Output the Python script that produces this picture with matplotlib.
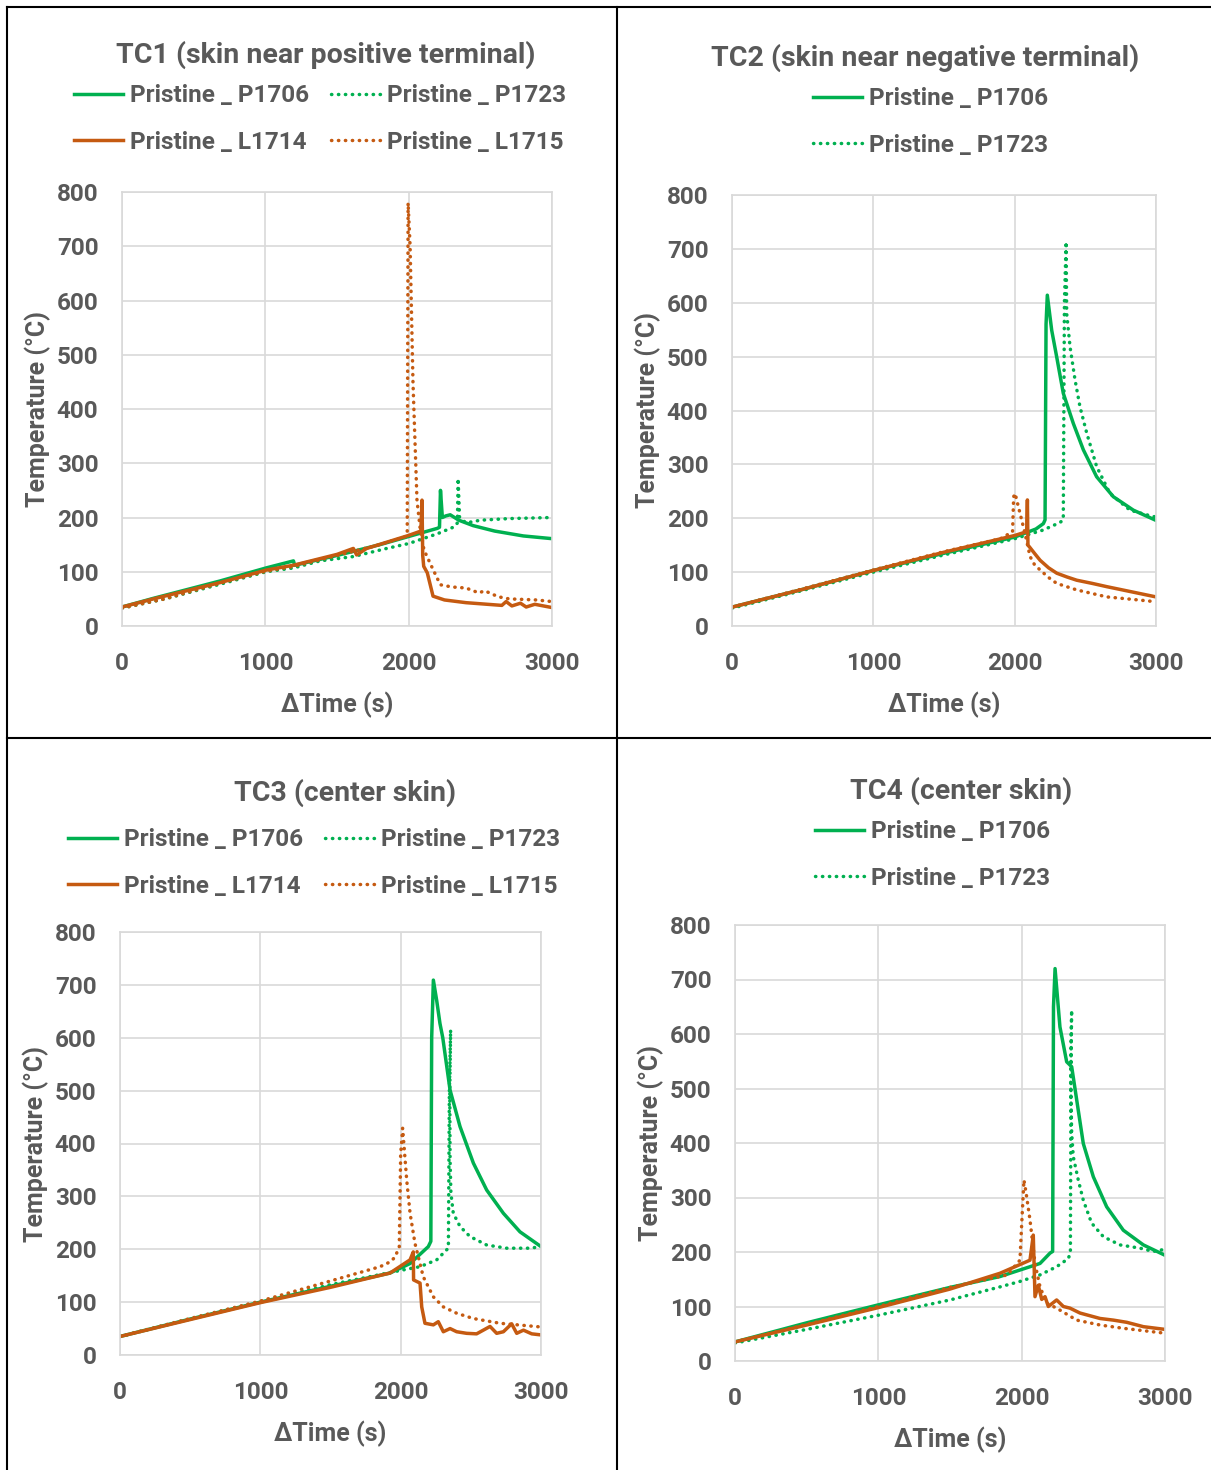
import matplotlib
matplotlib.use("Agg")
import matplotlib.pyplot as plt
from matplotlib.lines import Line2D

plt.rcParams['font.family'] = ['Roboto', 'DejaVu Sans']

GREEN = '#00B050'
ORANGE = '#C55A11'
GRAY = '#595959'
GRID = '#D9D9D9'

# ---------------- data (time s, temperature °C) ----------------
tc1_p1706_t = [0, 219, 684, 1005, 1196, 1205, 1500, 1800, 2000, 2200, 2215, 2222, 2235, 2260, 2290, 2350, 2450, 2600, 2800, 3000]
tc1_p1706_y = [35, 51, 83, 107, 120, 112, 130, 150, 165, 180, 182, 250, 200, 203, 205, 195, 185, 175, 166, 161]
tc1_p1723_t = [0, 300, 684, 1005, 1196, 1382, 1614, 1847, 2000, 2200, 2320, 2340, 2345, 2355, 2400, 2500, 2700, 3000]
tc1_p1723_y = [33, 50, 77, 100, 107, 120, 128, 143, 152, 170, 183, 190, 272, 200, 190, 195, 198, 200]
tc1_l1714_t = [0, 219, 684, 1005, 1196, 1500, 1614, 1637, 1707, 2000, 2085, 2093, 2098, 2105, 2130, 2170, 2250, 2400, 2550, 2650, 2680, 2720, 2780, 2820, 2880, 3000]
tc1_l1714_y = [35, 50, 80, 103, 112, 132, 143, 131, 143, 167, 175, 232, 130, 110, 98, 55, 48, 43, 40, 38, 45, 37, 42, 35, 40, 34]
tc1_l1715_t = [0, 300, 684, 1005, 1200, 1500, 1800, 1980, 1990, 1996, 2010, 2030, 2058, 2080, 2107, 2165, 2221, 2300, 2400, 2490, 2530, 2624, 2700, 2893, 3000]
tc1_l1715_y = [33, 50, 79, 101, 110, 130, 150, 165, 170, 780, 700, 450, 232, 180, 140, 107, 76, 72, 70, 61, 65, 54, 50, 48, 45]

tc2_p1706_t = [0, 500, 1000, 1500, 2000, 2150, 2203, 2215, 2222, 2231, 2262, 2297, 2344, 2415, 2486, 2580, 2698, 2840, 3000]
tc2_p1706_y = [35, 68, 103, 135, 165, 180, 190, 197, 560, 614, 549, 500, 432, 376, 327, 277, 240, 215, 196]
tc2_p1723_t = [0, 500, 1000, 1500, 2000, 2200, 2320, 2344, 2352, 2364, 2368, 2392, 2427, 2462, 2510, 2580, 2674, 2816, 2981, 3000]
tc2_p1723_y = [33, 66, 100, 132, 162, 178, 192, 197, 600, 713, 580, 518, 457, 407, 358, 296, 246, 215, 203, 203]
tc2_l1714_t = [0, 500, 1000, 1500, 2000, 2085, 2090, 2094, 2104, 2140, 2180, 2240, 2298, 2370, 2439, 2550, 2652, 2817, 3000]
tc2_l1714_y = [35, 68, 103, 137, 168, 175, 234, 150, 147, 135, 122, 108, 98, 91, 85, 79, 73, 64, 54]
tc2_l1715_t = [0, 500, 1000, 1500, 1900, 1985, 1993, 2003, 2038, 2073, 2109, 2140, 2180, 2240, 2298, 2439, 2652, 2850, 3000]
tc2_l1715_y = [35, 69, 104, 138, 162, 175, 240, 246, 209, 172, 129, 114, 104, 90, 79, 67, 54, 49, 45]

tc3_p1706_t = [0, 500, 1000, 1500, 1924, 2067, 2197, 2215, 2221, 2233, 2257, 2280, 2300, 2352, 2423, 2518, 2613, 2732, 2850, 3000]
tc3_p1706_y = [35, 68, 100, 130, 155, 173, 205, 215, 600, 709, 670, 627, 600, 501, 432, 363, 312, 268, 233, 205]
tc3_p1723_t = [0, 500, 1000, 1500, 2000, 2138, 2257, 2328, 2340, 2347, 2356, 2350, 2352, 2358, 2375, 2423, 2494, 2613, 2756, 2922, 3000]
tc3_p1723_y = [35, 68, 101, 133, 160, 167, 180, 199, 202, 498, 615, 500, 369, 306, 268, 243, 224, 208, 202, 202, 205]
tc3_l1714_t = [0, 500, 1000, 1500, 1924, 2067, 2090, 2092, 2138, 2150, 2173, 2233, 2268, 2304, 2352, 2399, 2470, 2541, 2637, 2684, 2732, 2791, 2827, 2875, 2934, 3000]
tc3_l1714_y = [35, 67, 99, 128, 155, 180, 195, 142, 136, 91, 60, 57, 63, 44, 50, 44, 41, 40, 54, 41, 44, 59, 41, 47, 40, 38]
tc3_l1715_t = [0, 500, 1000, 1500, 1853, 1924, 1960, 1990, 2000, 2014, 2043, 2067, 2102, 2161, 2233, 2304, 2399, 2518, 2708, 3000]
tc3_l1715_y = [35, 69, 102, 140, 167, 176, 185, 205, 380, 429, 331, 268, 211, 148, 110, 91, 79, 69, 60, 53]

tc4_p1706_t = [0, 500, 1000, 1500, 1849, 2128, 2198, 2216, 2222, 2233, 2267, 2314, 2349, 2384, 2430, 2500, 2593, 2709, 2849, 3000]
tc4_p1706_y = [35, 70, 103, 135, 155, 179, 198, 201, 650, 720, 613, 549, 540, 479, 399, 338, 283, 240, 213, 194]
tc4_p1723_t = [0, 500, 1000, 1500, 1849, 1988, 2128, 2244, 2326, 2340, 2345, 2349, 2342, 2349, 2360, 2395, 2430, 2488, 2570, 2686, 2826, 2919, 3000]
tc4_p1723_y = [33, 58, 84, 112, 136, 146, 158, 173, 188, 200, 600, 644, 510, 418, 375, 332, 295, 253, 228, 213, 207, 201, 205]
tc4_l1714_t = [0, 500, 1000, 1500, 1849, 2058, 2081, 2093, 2116, 2140, 2163, 2186, 2244, 2291, 2337, 2407, 2547, 2640, 2733, 2849, 3000]
tc4_l1714_y = [35, 66, 98, 132, 161, 185, 231, 118, 139, 113, 118, 100, 112, 100, 97, 88, 78, 75, 71, 63, 58]
tc4_l1715_t = [0, 500, 1000, 1500, 1900, 1988, 2000, 2016, 2030, 2058, 2093, 2128, 2174, 2244, 2384, 2547, 2709, 3000]
tc4_l1715_y = [35, 67, 100, 135, 158, 185, 250, 332, 310, 259, 179, 136, 106, 97, 75, 66, 60, 51]

titles = ['TC1 (skin near positive terminal)', 'TC2 (skin near negative terminal)',
          'TC3 (center skin)', 'TC4 (center skin)']
labels = ['Pristine _ P1706', 'Pristine _ P1723', 'Pristine _ L1714', 'Pristine _ L1715']
x_ticks = [0, 1000, 2000, 3000]
y_ticks = [0, 100, 200, 300, 400, 500, 600, 700, 800]

panels = [
    [(tc1_p1706_t, tc1_p1706_y), (tc1_p1723_t, tc1_p1723_y), (tc1_l1714_t, tc1_l1714_y), (tc1_l1715_t, tc1_l1715_y)],
    [(tc2_p1706_t, tc2_p1706_y), (tc2_p1723_t, tc2_p1723_y), (tc2_l1714_t, tc2_l1714_y), (tc2_l1715_t, tc2_l1715_y)],
    [(tc3_p1706_t, tc3_p1706_y), (tc3_p1723_t, tc3_p1723_y), (tc3_l1714_t, tc3_l1714_y), (tc3_l1715_t, tc3_l1715_y)],
    [(tc4_p1706_t, tc4_p1706_y), (tc4_p1723_t, tc4_p1723_y), (tc4_l1714_t, tc4_l1714_y), (tc4_l1715_t, tc4_l1715_y)],
]

W, H = 1211, 1470
fig = plt.figure(figsize=(W / 100, H / 100), dpi=100)

def fx(px):
    return px / W

def fy(py):
    return 1 - py / H

# pixel boxes: left, top, right, bottom
boxes = [(122, 192, 552, 626), (732, 195, 1156, 626), (120, 932, 541, 1355), (735, 925, 1165, 1361)]
title_pos = [(326, 55), (925, 58), (345, 793), (961, 791)]
legend_pos = [(320, 119), (931, 122), (314, 863), (933, 855)]
legend_ncol = [2, 1, 2, 1]
legend_n = [4, 2, 4, 2]

colors = [GREEN, GREEN, ORANGE, ORANGE]
dotted = (0, (0.1, 1.9))
styles = ['-', dotted, '-', dotted]
LW = 2.5

for i in range(4):
    l, t, r, b = boxes[i]
    ax = fig.add_axes([fx(l), fy(b), fx(r) - fx(l), fy(t) - fy(b)])
    for (xs, ys), c, ls in zip(panels[i], colors, styles):
        ax.plot(xs, ys, color=c, linestyle=ls, linewidth=LW,
                dash_capstyle='round', solid_capstyle='round', solid_joinstyle='round')
    ax.set_xlim(0, 3000)
    ax.set_ylim(0, 800)
    ax.set_xticks(x_ticks)
    ax.set_yticks(y_ticks)
    ax.grid(True, color=GRID, linewidth=1.2)
    ax.set_axisbelow(True)
    for s in ax.spines.values():
        s.set_color(GRID)
        s.set_linewidth(1.2)
    ax.tick_params(length=0, labelsize=17.5, labelcolor=GRAY)
    ax.tick_params(axis='x', pad=19)
    ax.tick_params(axis='y', pad=17)
    for lab in ax.get_xticklabels() + ax.get_yticklabels():
        lab.set_fontweight('bold')
    ax.set_xlabel('ΔTime (s)', fontsize=18, fontweight='bold', color=GRAY, labelpad=12)
    ax.set_ylabel('Temperature (°C)', fontsize=18, fontweight='bold', color=GRAY, labelpad=4)

    tx, ty = title_pos[i]
    fig.text(fx(tx), fy(ty), titles[i], fontsize=20.5, fontweight='bold', color=GRAY,
             ha='center', va='center')

    n = legend_n[i]
    handles = [Line2D([], [], color=colors[k], linestyle=styles[k], linewidth=LW,
                      dash_capstyle='round') for k in range(n)]
    if legend_ncol[i] == 2:
        # column order: P1706, L1714 | P1723, L1715
        order = [0, 2, 1, 3]
        handles = [handles[k] for k in order]
        labs = [labels[k] for k in order]
    else:
        labs = labels[:n]
    lx, ly = legend_pos[i]
    leg = fig.legend(handles, labs, loc='center', bbox_to_anchor=(fx(lx), fy(ly)),
                     ncol=legend_ncol[i], frameon=False, handlelength=2.0,
                     handletextpad=0.3, columnspacing=0.9, labelspacing=0.95,
                     prop={'size': 17.5, 'weight': 'bold'})
    for txt in leg.get_texts():
        txt.set_color(GRAY)

# panel borders
border = dict(color='black', linewidth=1.5)
fig.add_artist(Line2D([fx(7), fx(1210)], [fy(7), fy(7)], **border))
fig.add_artist(Line2D([fx(7), fx(7)], [fy(7), fy(1469)], **border))
fig.add_artist(Line2D([fx(617), fx(617)], [fy(7), fy(1469)], **border))
fig.add_artist(Line2D([fx(7), fx(1210)], [fy(738), fy(738)], **border))

fig.savefig('out.png', dpi=100)
